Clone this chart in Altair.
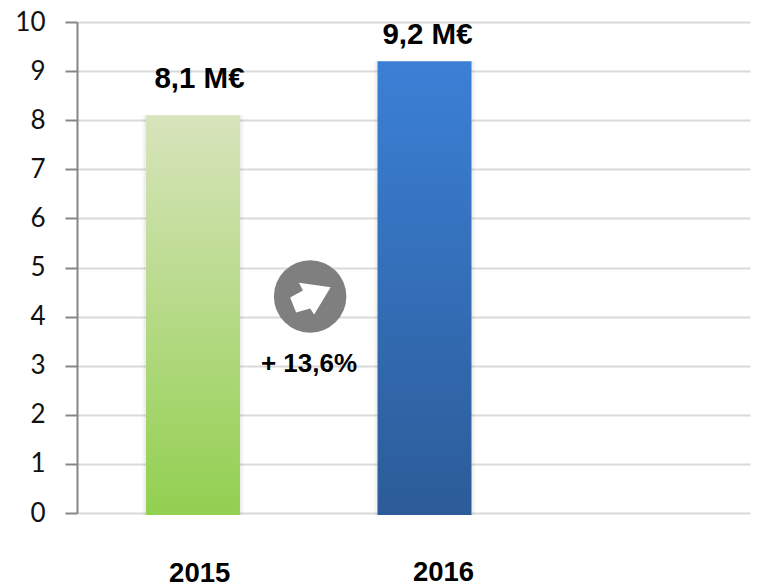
import altair as alt
import pandas as pd

years = [2015, 2016]
values = [8.1, 9.2]
bases = [-0.04, -0.04]
value_labels = ["8,1 M€", "9,2 M€"]
value_label_x = [2015.028, 2016.013]
value_label_y = [8.66, 9.56]
year_labels = ["2015", "2016"]
year_label_x = [2015.029, 2016.082]
year_label_y = [-1.41, -1.39]
change_label = ["+ 13,6%"]
change_x = [2015.501]
change_y = [2.87]
badge_x = [2015.506]
badge_y = [4.41]
ARROW = "M-0.533,-0.652 L0.976,-0.443 L0.19,0.857 L0,0.571 L-0.667,0.762 L-0.952,0.048 L-0.343,-0.286 Z"

bars = pd.DataFrame({"year": years, "value": values, "base": bases})
x_scale = alt.Scale(domain=[2014.499, 2017.406], nice=False, zero=False, padding=0)
y_scale = alt.Scale(domain=[0, 10], nice=False)
y_axis = alt.Axis(
    values=list(range(0, 11)), format="d", grid=True, gridColor="#d9d9d9", gridWidth=2,
    domainColor="#868686", domainWidth=2, tickColor="#868686", tickWidth=2, tickSize=12,
    labelFont="Lato", labelFontSize=26, labelColor="#111111", labelPadding=20, title=None,
)
X = alt.X("x:Q", scale=x_scale, axis=None)
Y = alt.Y("y:Q", scale=y_scale, axis=y_axis)
BX = alt.X("year:Q", scale=x_scale, axis=None)
BY = alt.Y("value:Q", scale=y_scale, axis=y_axis)


def gradient(top, bottom):
    return alt.Gradient(
        gradient="linear", x1=0, y1=0, x2=0, y2=1,
        stops=[alt.GradientStop(color=top, offset=0), alt.GradientStop(color=bottom, offset=1)],
    )


shadow_outer = alt.Chart(bars).mark_bar(size=102, color="#808080", opacity=0.05).encode(x=BX, y=BY, y2="base:Q")
shadow_inner = alt.Chart(bars).mark_bar(size=98, color="#808080", opacity=0.08).encode(x=BX, y=BY, y2="base:Q")
bar_2015 = (
    alt.Chart(bars[bars.year == 2015])
    .mark_bar(size=94, color=gradient("#d8e4bc", "#92d050"))
    .encode(x=BX, y=BY, y2="base:Q")
)
bar_2016 = (
    alt.Chart(bars[bars.year == 2016])
    .mark_bar(size=94, color=gradient("#3b80d6", "#2c5c98"))
    .encode(x=BX, y=BY, y2="base:Q")
)


def texts(labels, xs, ys, size):
    df = pd.DataFrame({"label": labels, "x": xs, "y": ys})
    return (
        alt.Chart(df)
        .mark_text(font="Liberation Sans", fontWeight="bold", fontSize=size, color="#000000", align="center", baseline="alphabetic")
        .encode(x=X, y=Y, text="label:N")
    )


badge_df = pd.DataFrame({"x": badge_x, "y": badge_y})
badge = alt.Chart(badge_df).mark_point(filled=True, shape="circle", size=5256, color="#7f7f7f", opacity=1).encode(x=X, y=Y)
arrow = alt.Chart(badge_df).mark_point(filled=True, shape=ARROW, size=1764, color="#ffffff", opacity=1, strokeWidth=0).encode(x=X, y=Y)

chart = (
    alt.layer(
        shadow_outer, shadow_inner, bar_2015, bar_2016, badge, arrow,
        texts(value_labels, value_label_x, value_label_y, 29.5),
        texts(year_labels, year_label_x, year_label_y, 27.5),
        texts(change_label, change_x, change_y, 26),
    )
    .properties(
        width=673, height=491,
        autosize=alt.AutoSizeParams(type="none"),
        padding={"left": 69, "top": 14, "right": 5, "bottom": 70},
        background="#ffffff",
    )
    .configure_view(stroke=None)
)

chart.save("out.html", embed_options={"renderer": "svg", "actions": False})
